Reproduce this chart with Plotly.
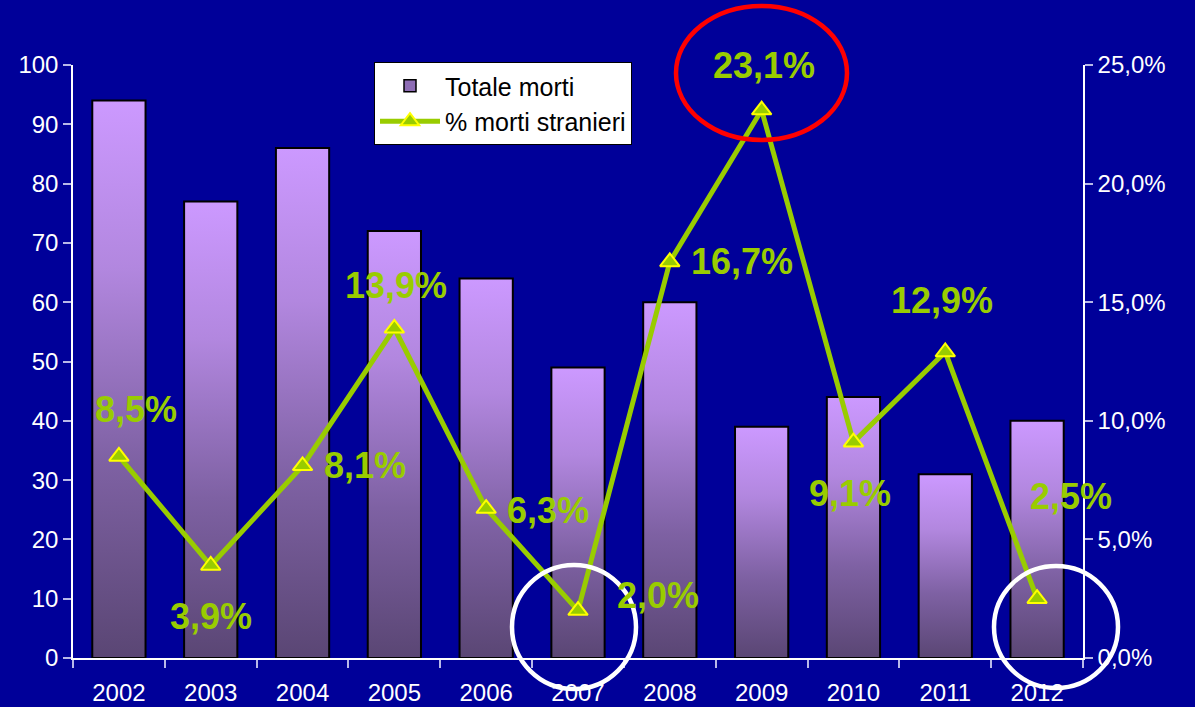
import plotly.graph_objects as go

# Data
years = ["2002", "2003", "2004", "2005", "2006", "2007", "2008", "2009", "2010", "2011", "2012"]
totale_morti = [94, 77, 86, 72, 64, 49, 60, 39, 44, 31, 40]
perc_stranieri = [8.5, 3.9, 8.1, 13.9, 6.3, 2.0, 16.7, 23.1, 9.1, 12.9, 2.5]
perc_labels = ["8,5%", "3,9%", "8,1%", "13,9%", "6,3%", "2,0%", "16,7%", "23,1%", "9,1%", "12,9%", "2,5%"]

# Label offsets (pixels) relative to each marker
label_dx = [17, 0, 62, 2, 62, 80, 72, 2, -3, -3, 34]
label_dy = [47, -51, 0, 43, -2, 15, 0, 45, -51, 52, 102]

BG = "#000099"
GREEN = "#99CC00"
FONT = "Arial, Liberation Sans, sans-serif"
HALF = 0.29

fig = go.Figure()

# Legend entry for the bars
fig.add_trace(go.Bar(
    x=[None], y=[None],
    marker=dict(color="#8E6DB5", line=dict(color="black", width=1.5)),
    name="Totale morti",
    showlegend=True,
    yaxis="y",
))

# Bars drawn as filled polygons so each one carries a vertical gradient
bar_scale = [[0.0, "#5A4674"], [0.35, "#7E61A3"], [0.7, "#B287DF"], [1.0, "#CC99FF"]]
for i, v in enumerate(totale_morti):
    fig.add_trace(go.Scatter(
        x=[i - HALF, i - HALF, i + HALF, i + HALF, i - HALF],
        y=[0, v, v, 0, 0],
        mode="lines",
        fill="toself",
        fillgradient=dict(type="vertical", colorscale=bar_scale),
        line=dict(color="black", width=2),
        name="Totale morti",
        showlegend=False,
        hoverinfo="skip",
        yaxis="y",
    ))

# Percentage line on the secondary axis
fig.add_trace(go.Scatter(
    x=list(range(len(years))),
    y=perc_stranieri,
    mode="lines+markers",
    line=dict(color=GREEN, width=5),
    marker=dict(symbol="triangle-up", size=17, color=GREEN,
                line=dict(color="#FFFF00", width=2)),
    name="% morti stranieri",
    yaxis="y2",
))

annotations = []
for i, (p, t) in enumerate(zip(perc_stranieri, perc_labels)):
    annotations.append(dict(
        x=i, y=p, xref="x", yref="y2", text=t, showarrow=False,
        xanchor="center", yanchor="middle",
        xshift=label_dx[i], yshift=label_dy[i],
        font=dict(family=FONT, size=36, color=GREEN, weight="bold"),
    ))

# Highlight circles
L, R, T, B = 73, 1083, 65, 658
def px_x(px):
    return (px - L) / (R - L)
def px_y(py):
    return (B - py) / (B - T)

shapes = [
    dict(type="circle", xref="paper", yref="paper",
         x0=px_x(676), x1=px_x(847), y0=px_y(140), y1=px_y(6),
         line=dict(color="#FF0000", width=4.5), layer="above"),
    dict(type="circle", xref="paper", yref="paper",
         x0=px_x(512), x1=px_x(636), y0=px_y(689), y1=px_y(565),
         line=dict(color="white", width=4.5), layer="above"),
    dict(type="circle", xref="paper", yref="paper",
         x0=px_x(994), x1=px_x(1118), y0=px_y(688), y1=px_y(566),
         line=dict(color="white", width=4.5), layer="above"),
]

tick_font = dict(family=FONT, size=24, color="white")

fig.update_layout(
    width=1195, height=707,
    margin=dict(l=L, r=1195 - R, t=T, b=707 - B, autoexpand=False),
    paper_bgcolor=BG, plot_bgcolor=BG,
    separators=",.",
    showlegend=True,
    legend=dict(
        x=px_x(374), y=px_y(62), xanchor="left", yanchor="top",
        bgcolor="white", bordercolor="black", borderwidth=1,
        font=dict(family=FONT, size=25, color="black"),
        itemwidth=60,
        traceorder="normal",
    ),
    xaxis=dict(
        range=[-0.5, len(years) - 0.5],
        tickmode="array",
        tickvals=list(range(len(years))),
        ticktext=years,
        ticks="",
        ticklabelstandoff=12,
        tickfont=tick_font,
        automargin=False,
        showgrid=False, zeroline=False,
        showline=True, linecolor="white", linewidth=1.5,
        minor=dict(tick0=0.5, dtick=1, ticks="outside", ticklen=8,
                   tickcolor="#B8B8E8", tickwidth=1.5, showgrid=False),
    ),
    yaxis=dict(
        range=[0, 100], dtick=10,
        ticks="outside", ticklen=8, tickcolor="#B8B8E8", tickwidth=1.5,
        tickfont=tick_font, automargin=False,
        showgrid=False, zeroline=False,
        showline=True, linecolor="white", linewidth=1.5,
    ),
    yaxis2=dict(
        range=[0, 25], dtick=5, overlaying="y", side="right",
        tickformat=".1f", ticksuffix="%",
        ticks="outside", ticklen=8, tickcolor="#B8B8E8", tickwidth=1.5,
        tickfont=tick_font, automargin=False,
        showgrid=False, zeroline=False,
        showline=True, linecolor="white", linewidth=1.5,
    ),
    annotations=annotations,
    shapes=shapes,
)

fig.write_html("out.html")
